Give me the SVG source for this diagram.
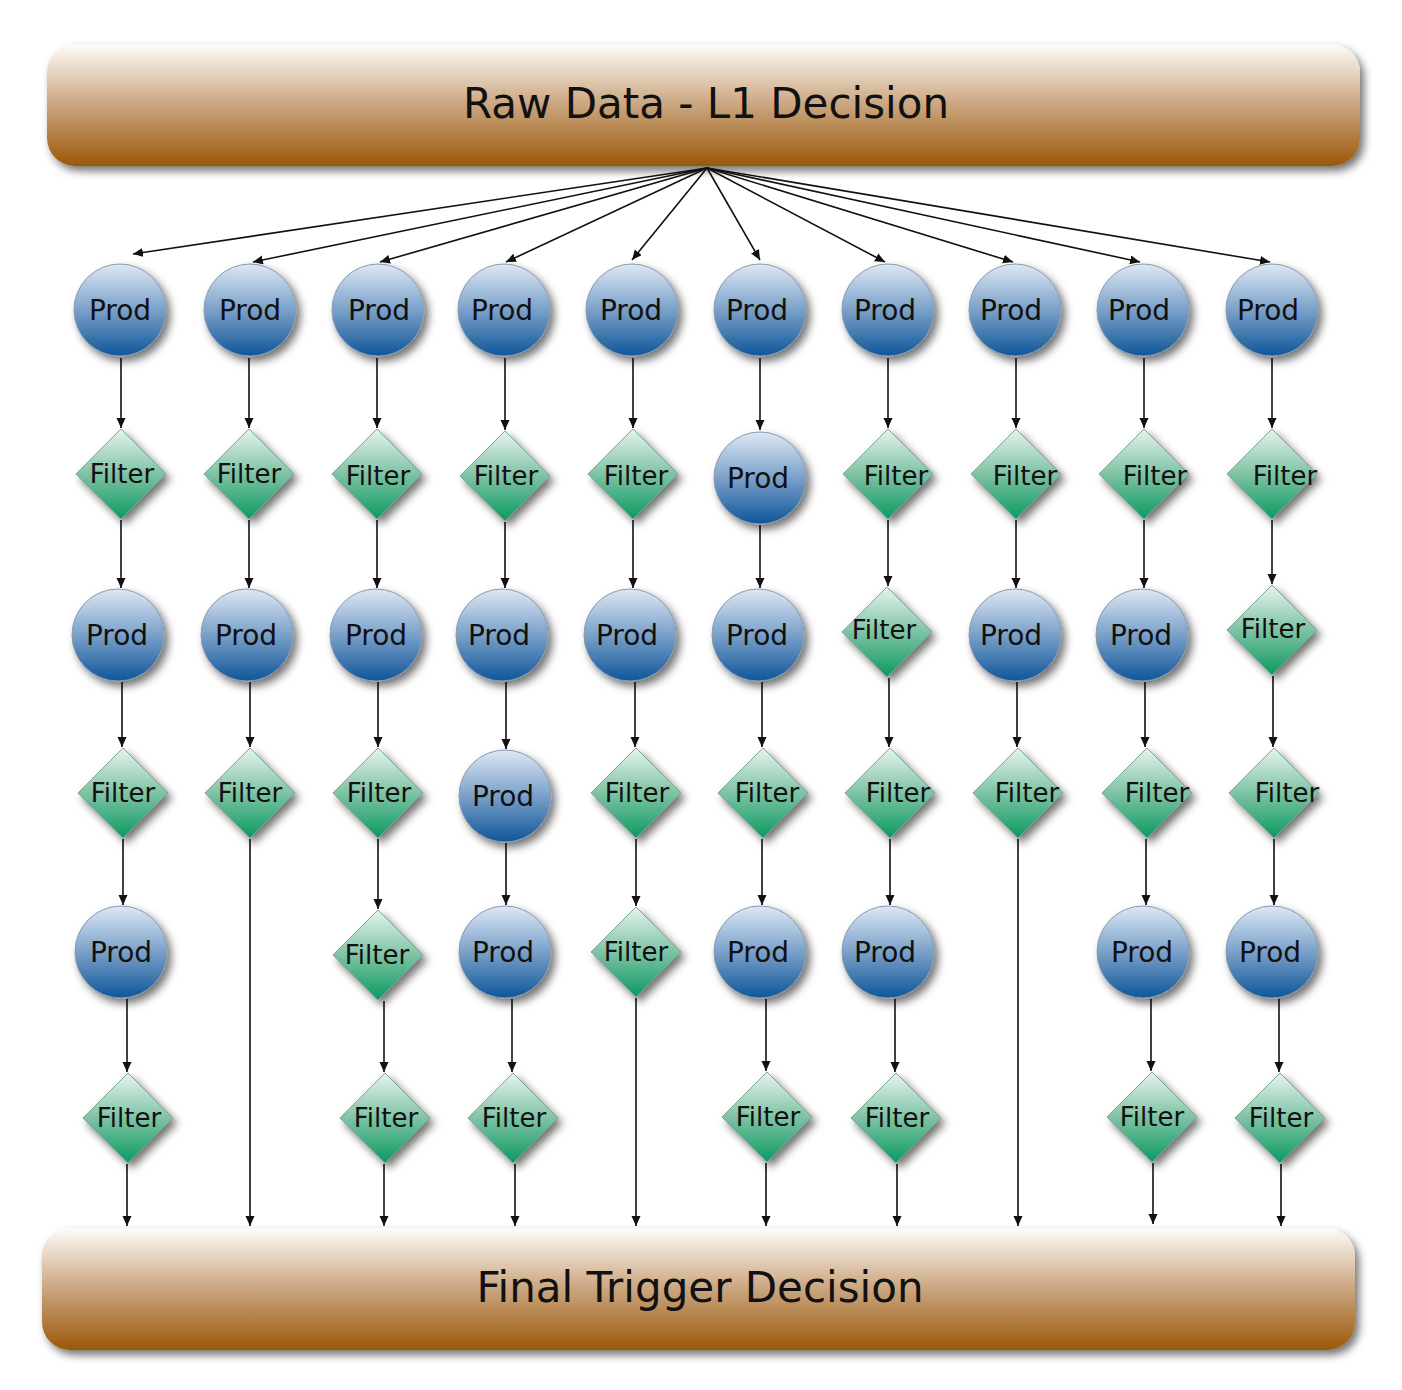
<svg xmlns="http://www.w3.org/2000/svg" width="1402" height="1390" viewBox="0 0 1402 1390">
<defs>
<linearGradient id="gBar" x1="0" y1="0" x2="0" y2="1"><stop offset="0" stop-color="#fefcfa"/><stop offset="0.5" stop-color="#caa57f"/><stop offset="1" stop-color="#9b5808"/></linearGradient>
<linearGradient id="gProd" x1="0" y1="0" x2="0" y2="1"><stop offset="0" stop-color="#dde8f4"/><stop offset="0.5" stop-color="#7aa0c9"/><stop offset="1" stop-color="#0f5699"/></linearGradient>
<linearGradient id="gFilt" x1="0" y1="0" x2="0" y2="1"><stop offset="0" stop-color="#e6f4ee"/><stop offset="0.5" stop-color="#7ec3a4"/><stop offset="1" stop-color="#0a9a62"/></linearGradient>
<filter id="sh" x="-30%" y="-30%" width="170%" height="170%"><feDropShadow dx="4" dy="5" stdDeviation="4" flood-color="#000" flood-opacity="0.55"/></filter>
<marker id="ah" markerUnits="userSpaceOnUse" markerWidth="11" markerHeight="10" refX="10" refY="4.5" orient="auto"><path d="M0,0 L10,4.5 L0,9 z" fill="#111"/></marker>
<circle id="pc" r="46" fill="url(#gProd)" stroke="#8a9bb0" stroke-width="1"/>
<path id="fd" d="M0,-45 L45,0 L0,45 L-45,0 z" fill="url(#gFilt)" stroke="#7aa890" stroke-width="1"/>
</defs>
<style>
.bar{fill:url(#gBar);filter:url(#sh)}
.bt{font-family:"DejaVu Sans",sans-serif;font-size:42px;fill:#111;text-anchor:middle}
.pt{font-family:"DejaVu Sans",sans-serif;font-size:28px;fill:#111;text-anchor:middle}
.ft{font-family:"DejaVu Sans",sans-serif;font-size:26px;fill:#111;text-anchor:middle}
.sh{filter:url(#sh)}
#conn line{stroke:#111;stroke-width:1.6;marker-end:url(#ah)}
</style>
<rect width="1402" height="1390" fill="#fff"/>
<g id="top"><rect class="bar" x="47" y="44" width="1313" height="122" rx="28"/><text class="bt" x="706" y="118">Raw Data - L1 Decision</text></g>
<g id="bottom"><rect class="bar" x="42" y="1228" width="1313" height="122" rx="28"/><text class="bt" x="700" y="1302">Final Trigger Decision</text></g>
<g id="conn">
<line x1="707" y1="168" x2="133" y2="254"/>
<line x1="707" y1="168" x2="253" y2="262"/>
<line x1="707" y1="168" x2="380" y2="262"/>
<line x1="707" y1="168" x2="506" y2="262"/>
<line x1="707" y1="168" x2="632" y2="260"/>
<line x1="707" y1="168" x2="760" y2="260"/>
<line x1="707" y1="168" x2="885" y2="262"/>
<line x1="707" y1="168" x2="1013" y2="262"/>
<line x1="707" y1="168" x2="1140" y2="262"/>
<line x1="707" y1="168" x2="1270" y2="262"/>
<!-- col1 -->
<line x1="121" y1="358" x2="121" y2="428"/>
<line x1="121" y1="520" x2="121" y2="588"/>
<line x1="122" y1="682" x2="122" y2="747"/>
<line x1="123" y1="839" x2="123" y2="905"/>
<line x1="127" y1="999" x2="127" y2="1072"/>
<line x1="127" y1="1164" x2="127" y2="1226"/>
<!-- col2 -->
<line x1="249" y1="358" x2="249" y2="428"/>
<line x1="249" y1="520" x2="249" y2="588"/>
<line x1="250" y1="682" x2="250" y2="747"/>
<line x1="250" y1="839" x2="250" y2="1226"/>
<!-- col3 -->
<line x1="377" y1="358" x2="377" y2="428"/>
<line x1="377" y1="520" x2="377" y2="588"/>
<line x1="378" y1="682" x2="378" y2="747"/>
<line x1="378" y1="839" x2="378" y2="909"/>
<line x1="384" y1="1001" x2="384" y2="1072"/>
<line x1="384" y1="1164" x2="384" y2="1226"/>
<!-- col4 -->
<line x1="505" y1="358" x2="505" y2="430"/>
<line x1="505" y1="522" x2="505" y2="588"/>
<line x1="506" y1="682" x2="506" y2="749"/>
<line x1="506" y1="843" x2="506" y2="905"/>
<line x1="512" y1="999" x2="512" y2="1072"/>
<line x1="515" y1="1164" x2="515" y2="1226"/>
<!-- col5 -->
<line x1="633" y1="358" x2="633" y2="428"/>
<line x1="633" y1="520" x2="633" y2="588"/>
<line x1="635" y1="682" x2="635" y2="747"/>
<line x1="636" y1="839" x2="636" y2="906"/>
<line x1="636" y1="998" x2="636" y2="1226"/>
<!-- col6 -->
<line x1="760" y1="358" x2="760" y2="430"/>
<line x1="760" y1="525" x2="760" y2="588"/>
<line x1="762" y1="682" x2="762" y2="747"/>
<line x1="762" y1="839" x2="762" y2="905"/>
<line x1="766" y1="999" x2="766" y2="1071"/>
<line x1="766" y1="1163" x2="766" y2="1226"/>
<!-- col7 -->
<line x1="888" y1="358" x2="888" y2="428"/>
<line x1="888" y1="520" x2="888" y2="586"/>
<line x1="889" y1="678" x2="889" y2="747"/>
<line x1="890" y1="839" x2="890" y2="905"/>
<line x1="895" y1="999" x2="895" y2="1072"/>
<line x1="897" y1="1164" x2="897" y2="1226"/>
<!-- col8 -->
<line x1="1016" y1="358" x2="1016" y2="428"/>
<line x1="1016" y1="520" x2="1016" y2="588"/>
<line x1="1017" y1="682" x2="1017" y2="747"/>
<line x1="1018" y1="839" x2="1018" y2="1226"/>
<!-- col9 -->
<line x1="1144" y1="358" x2="1144" y2="428"/>
<line x1="1144" y1="520" x2="1144" y2="588"/>
<line x1="1145" y1="682" x2="1145" y2="747"/>
<line x1="1146" y1="839" x2="1146" y2="905"/>
<line x1="1151" y1="999" x2="1151" y2="1071"/>
<line x1="1153" y1="1163" x2="1153" y2="1224"/>
<!-- col10 -->
<line x1="1272" y1="358" x2="1272" y2="428"/>
<line x1="1272" y1="520" x2="1272" y2="584"/>
<line x1="1273" y1="676" x2="1273" y2="747"/>
<line x1="1274" y1="839" x2="1274" y2="905"/>
<line x1="1279" y1="999" x2="1279" y2="1072"/>
<line x1="1281" y1="1164" x2="1281" y2="1226"/>
</g>
<!-- row1 -->
<g id="p1_1"><use href="#pc" x="120" y="310" class="sh"/><text class="pt" x="120" y="320">Prod</text></g>
<g id="p1_2"><use href="#pc" x="250" y="310" class="sh"/><text class="pt" x="250" y="320">Prod</text></g>
<g id="p1_3"><use href="#pc" x="378" y="310" class="sh"/><text class="pt" x="379" y="320">Prod</text></g>
<g id="p1_4"><use href="#pc" x="504" y="310" class="sh"/><text class="pt" x="502" y="320">Prod</text></g>
<g id="p1_5"><use href="#pc" x="632" y="310" class="sh"/><text class="pt" x="631" y="320">Prod</text></g>
<g id="p1_6"><use href="#pc" x="760" y="310" class="sh"/><text class="pt" x="757" y="320">Prod</text></g>
<g id="p1_7"><use href="#pc" x="888" y="310" class="sh"/><text class="pt" x="885" y="320">Prod</text></g>
<g id="p1_8"><use href="#pc" x="1015" y="310" class="sh"/><text class="pt" x="1011" y="320">Prod</text></g>
<g id="p1_9"><use href="#pc" x="1143" y="310" class="sh"/><text class="pt" x="1139" y="320">Prod</text></g>
<g id="p1_10"><use href="#pc" x="1272" y="310" class="sh"/><text class="pt" x="1268" y="320">Prod</text></g>
<!-- row2 -->
<g id="f2_1"><use href="#fd" x="121" y="474" class="sh"/><text class="ft" x="122" y="483">Filter</text></g>
<g id="f2_2"><use href="#fd" x="249" y="474" class="sh"/><text class="ft" x="249" y="483">Filter</text></g>
<g id="f2_3"><use href="#fd" x="377" y="474" class="sh"/><text class="ft" x="378" y="485">Filter</text></g>
<g id="f2_4"><use href="#fd" x="505" y="476" class="sh"/><text class="ft" x="506" y="485">Filter</text></g>
<g id="f2_5"><use href="#fd" x="633" y="474" class="sh"/><text class="ft" x="636" y="485">Filter</text></g>
<g id="p2_6"><use href="#pc" x="760" y="478" class="sh"/><text class="pt" x="758" y="488">Prod</text></g>
<g id="f2_7"><use href="#fd" x="888" y="474" class="sh"/><text class="ft" x="896" y="485">Filter</text></g>
<g id="f2_8"><use href="#fd" x="1016" y="474" class="sh"/><text class="ft" x="1025" y="485">Filter</text></g>
<g id="f2_9"><use href="#fd" x="1144" y="474" class="sh"/><text class="ft" x="1155" y="485">Filter</text></g>
<g id="f2_10"><use href="#fd" x="1272" y="474" class="sh"/><text class="ft" x="1285" y="485">Filter</text></g>
<!-- row3 -->
<g id="p3_1"><use href="#pc" x="118" y="635" class="sh"/><text class="pt" x="117" y="645">Prod</text></g>
<g id="p3_2"><use href="#pc" x="247" y="635" class="sh"/><text class="pt" x="246" y="645">Prod</text></g>
<g id="p3_3"><use href="#pc" x="376" y="635" class="sh"/><text class="pt" x="376" y="645">Prod</text></g>
<g id="p3_4"><use href="#pc" x="502" y="635" class="sh"/><text class="pt" x="499" y="645">Prod</text></g>
<g id="p3_5"><use href="#pc" x="630" y="635" class="sh"/><text class="pt" x="627" y="645">Prod</text></g>
<g id="p3_6"><use href="#pc" x="758" y="635" class="sh"/><text class="pt" x="757" y="645">Prod</text></g>
<g id="f3_7"><use href="#fd" x="887" y="632" class="sh"/><text class="ft" x="884" y="639">Filter</text></g>
<g id="p3_8"><use href="#pc" x="1015" y="635" class="sh"/><text class="pt" x="1011" y="645">Prod</text></g>
<g id="p3_9"><use href="#pc" x="1142" y="635" class="sh"/><text class="pt" x="1141" y="645">Prod</text></g>
<g id="f3_10"><use href="#fd" x="1272" y="630" class="sh"/><text class="ft" x="1273" y="638">Filter</text></g>
<!-- row4 -->
<g id="f4_1"><use href="#fd" x="123" y="793" class="sh"/><text class="ft" x="123" y="802">Filter</text></g>
<g id="f4_2"><use href="#fd" x="250" y="793" class="sh"/><text class="ft" x="250" y="802">Filter</text></g>
<g id="f4_3"><use href="#fd" x="378" y="793" class="sh"/><text class="ft" x="379" y="802">Filter</text></g>
<g id="p4_4"><use href="#pc" x="505" y="796" class="sh"/><text class="pt" x="503" y="806">Prod</text></g>
<g id="f4_5"><use href="#fd" x="636" y="793" class="sh"/><text class="ft" x="637" y="802">Filter</text></g>
<g id="f4_6"><use href="#fd" x="763" y="793" class="sh"/><text class="ft" x="767" y="802">Filter</text></g>
<g id="f4_7"><use href="#fd" x="890" y="793" class="sh"/><text class="ft" x="898" y="802">Filter</text></g>
<g id="f4_8"><use href="#fd" x="1018" y="793" class="sh"/><text class="ft" x="1027" y="802">Filter</text></g>
<g id="f4_9"><use href="#fd" x="1147" y="793" class="sh"/><text class="ft" x="1157" y="802">Filter</text></g>
<g id="f4_10"><use href="#fd" x="1274" y="793" class="sh"/><text class="ft" x="1287" y="802">Filter</text></g>
<!-- row5 -->
<g id="p5_1"><use href="#pc" x="121" y="952" class="sh"/><text class="pt" x="121" y="962">Prod</text></g>
<g id="f5_3"><use href="#fd" x="378" y="955" class="sh"/><text class="ft" x="377" y="964">Filter</text></g>
<g id="p5_4"><use href="#pc" x="505" y="952" class="sh"/><text class="pt" x="503" y="962">Prod</text></g>
<g id="f5_5"><use href="#fd" x="636" y="952" class="sh"/><text class="ft" x="636" y="961">Filter</text></g>
<g id="p5_6"><use href="#pc" x="760" y="952" class="sh"/><text class="pt" x="758" y="962">Prod</text></g>
<g id="p5_7"><use href="#pc" x="888" y="952" class="sh"/><text class="pt" x="885" y="962">Prod</text></g>
<g id="p5_9"><use href="#pc" x="1143" y="952" class="sh"/><text class="pt" x="1142" y="962">Prod</text></g>
<g id="p5_10"><use href="#pc" x="1272" y="952" class="sh"/><text class="pt" x="1270" y="962">Prod</text></g>
<!-- row6 -->
<g id="f6_1"><use href="#fd" x="128" y="1118" class="sh"/><text class="ft" x="129" y="1127">Filter</text></g>
<g id="f6_3"><use href="#fd" x="385" y="1118" class="sh"/><text class="ft" x="386" y="1127">Filter</text></g>
<g id="f6_4"><use href="#fd" x="513" y="1118" class="sh"/><text class="ft" x="514" y="1127">Filter</text></g>
<g id="f6_6"><use href="#fd" x="767" y="1117" class="sh"/><text class="ft" x="768" y="1126">Filter</text></g>
<g id="f6_7"><use href="#fd" x="896" y="1118" class="sh"/><text class="ft" x="897" y="1127">Filter</text></g>
<g id="f6_9"><use href="#fd" x="1152" y="1117" class="sh"/><text class="ft" x="1152" y="1126">Filter</text></g>
<g id="f6_10"><use href="#fd" x="1280" y="1118" class="sh"/><text class="ft" x="1281" y="1127">Filter</text></g>
</svg>
